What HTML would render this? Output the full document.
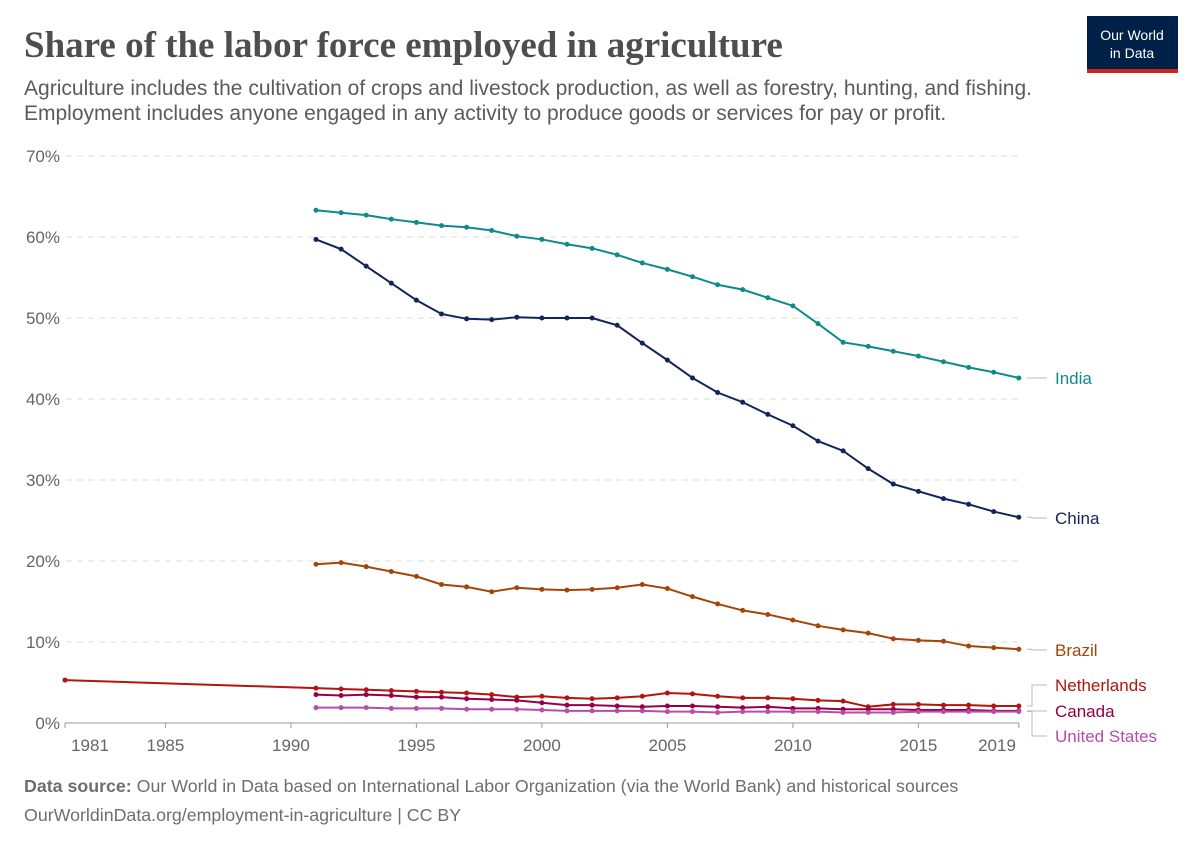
<!DOCTYPE html>
<html><head><meta charset="utf-8"><style>
body{margin:0;background:#fff;width:1200px;height:848px;overflow:hidden;font-family:"Liberation Sans",sans-serif}
</style></head><body>
<svg id="s" width="1200" height="848" xmlns="http://www.w3.org/2000/svg">
<text x="24" y="57" font-family="Liberation Serif,serif" font-size="37" font-weight="bold" fill="#4e4e4e">Share of the labor force employed in agriculture</text>
<text x="24" y="95" font-size="21" fill="#5b5b5b" textLength="1008">Agriculture includes the cultivation of crops and livestock production, as well as forestry, hunting, and fishing.</text>
<text x="24" y="120" font-size="21" fill="#5b5b5b">Employment includes anyone engaged in any activity to produce goods or services for pay or profit.</text>
<rect x="1087" y="16" width="91" height="53" fill="#002147"/>
<rect x="1087" y="69" width="91" height="4" fill="#ce261e"/>
<text x="1132" y="40" font-size="14" fill="#fff" text-anchor="middle">Our World</text>
<text x="1132" y="58" font-size="14" fill="#fff" text-anchor="middle">in Data</text>
<g id="g"></g>
<text x="24" y="792" font-size="17.8" fill="#6e6e6e"><tspan font-weight="bold">Data source:</tspan> Our World in Data based on International Labor Organization (via the World Bank) and historical sources</text>
<text x="24" y="821" font-size="17.8" fill="#6e6e6e">OurWorldinData.org/employment-in-agriculture | CC BY</text>
</svg>
<script>
const g=document.getElementById('g');let h='';
const X=y=>316+(y-1991)*25.1, Y=v=>723-v*8.1;
for(let i=0;i<=7;i++){const y=Y(i*10);
 if(i>0)h+=`<line x1="66" x2="1019" y1="${y}" y2="${y}" stroke="#ddd" stroke-dasharray="6,5"/>`;
 h+=`<text x="60" y="${y+6}" font-size="17" fill="#666" text-anchor="end">${i*10}%</text>`;}
h+=`<line x1="65" x2="1019" y1="723" y2="723" stroke="#999"/>`;
[[1981,1981,90],[1985,1985],[1990,1990],[1995,1995],[2000,2000],[2005,2005],[2010,2010],[2015,2015],[2019,2019,997]].forEach(([t,l,px])=>{
 const x=X(t);h+=`<line x1="${x}" x2="${x}" y1="723" y2="728" stroke="#999"/><text x="${px||x}" y="751" font-size="17" fill="#666" text-anchor="middle">${l}</text>`;});
const S=[
['India','#0e8a8c',[63.3,63.0,62.7,62.2,61.8,61.4,61.2,60.8,60.1,59.7,59.1,58.6,57.8,56.8,56.0,55.1,54.1,53.5,52.5,51.5,49.3,47.0,46.5,45.9,45.3,44.6,43.9,43.3,42.6],384],
['China','#13235b',[59.7,58.5,56.4,54.3,52.2,50.5,49.9,49.8,50.1,50.0,50.0,50.0,49.1,46.9,44.8,42.6,40.8,39.6,38.1,36.7,34.8,33.6,31.4,29.5,28.6,27.7,27.0,26.1,25.4],524],
['Brazil','#a2460a',[19.6,19.8,19.3,18.7,18.1,17.1,16.8,16.2,16.7,16.5,16.4,16.5,16.7,17.1,16.6,15.6,14.7,13.9,13.4,12.7,12.0,11.5,11.1,10.4,10.2,10.1,9.5,9.3,9.1],656],
['Netherlands','#b2140e',[4.3,4.2,4.1,4.0,3.9,3.8,3.7,3.5,3.2,3.3,3.1,3.0,3.1,3.3,3.7,3.6,3.3,3.1,3.1,3.0,2.8,2.7,2.0,2.3,2.3,2.2,2.2,2.1,2.1],691],
['Canada','#970046',[3.5,3.4,3.5,3.4,3.2,3.2,3.0,2.9,2.8,2.5,2.2,2.2,2.1,2.0,2.1,2.1,2.0,1.9,2.0,1.8,1.8,1.7,1.7,1.7,1.6,1.6,1.6,1.5,1.5],717],
['United States','#b64ea7',[1.9,1.9,1.9,1.8,1.8,1.8,1.7,1.7,1.7,1.6,1.5,1.5,1.5,1.5,1.4,1.4,1.3,1.4,1.4,1.4,1.4,1.3,1.3,1.3,1.4,1.4,1.4,1.4,1.4],742]];
S.forEach(([n,c,d,ly])=>{let pts=d.map((v,i)=>[X(1991+i),Y(v)]);
 if(n=='Netherlands')pts.unshift([X(1981),Y(5.3)]);
 h+=`<polyline points="${pts.map(p=>p.join(',')).join(' ')}" fill="none" stroke="${c}" stroke-width="2"/>`;
 pts.forEach(p=>h+=`<circle cx="${p[0]}" cy="${p[1]}" r="2.5" fill="${c}"/>`);
 const ey=pts[pts.length-1][1];
 h+=`<polyline points="1027,${ey} 1032,${ey} 1032,${ly-6} 1047,${ly-6}" fill="none" stroke="#bbb"/>`;
 h+=`<text x="1055" y="${ly}" font-size="17" fill="${c}">${n}</text>`;});
g.innerHTML=h;
</script>
</body></html>
